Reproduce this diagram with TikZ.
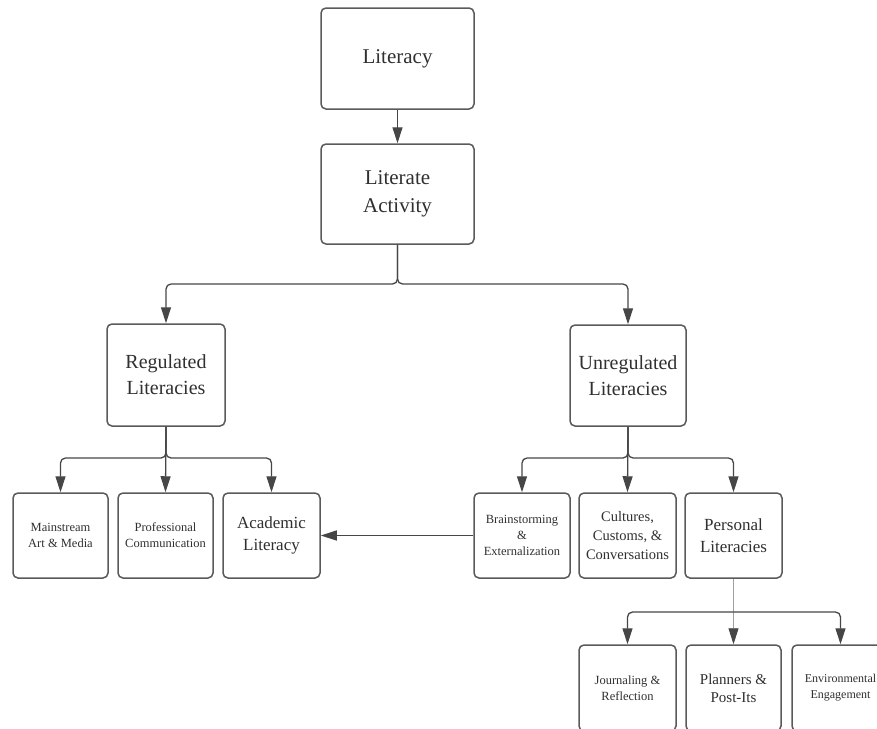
\documentclass[tikz,border=0pt]{standalone}
\usepackage{fontspec}
\setmainfont{Liberation Serif}
\usepackage{xcolor}
\usetikzlibrary{arrows.meta,positioning}

\definecolor{boxline}{HTML}{5A5A5A}
\definecolor{linegray}{HTML}{464646}
\definecolor{textgray}{HTML}{303030}

\begin{document}
\begin{tikzpicture}[x=1pt, y=-1pt,
    box/.style={draw=boxline, line width=1.5pt, rounded corners=5pt, fill=white,
        text=textgray, align=center, inner sep=0pt},
    conn/.style={draw=linegray, line width=1.3pt, rounded corners=5pt},
    arr/.style={conn, -{Triangle[length=16pt, width=10pt]}},
    thinarr/.style={draw=gray!75, line width=0.8pt,
        -{Triangle[length=16pt, width=10pt, color=linegray]}}]
    \useasboundingbox (0,0) rectangle (877,728);

    % Top of the tree
    \node[box, minimum width=153pt, minimum height=101pt,
        font=\fontsize{21}{27}\selectfont] (lit) at (397.5,58.5) {Literacy};
    \node[box, minimum width=153pt, minimum height=100pt,
        font=\fontsize{21}{28}\selectfont] (act) at (397.5,194) {Literate\\Activity};

    % Regulated / unregulated
    \node[box, minimum width=118pt, minimum height=102pt,
        font=\fontsize{20}{26}\selectfont] (reg) at (166,375) {Regulated\\Literacies};
    \node[box, minimum width=116pt, minimum height=101pt,
        font=\fontsize{20}{26}\selectfont] (unreg) at (628,375.5) {Unregulated\\Literacies};

    % Regulated children
    \node[box, minimum width=95pt, minimum height=85pt,
        font=\fontsize{12.5}{16}\selectfont] (main) at (60.5,535.5) {Mainstream\\Art \& Media};
    \node[box, minimum width=95pt, minimum height=85pt,
        font=\fontsize{12.5}{16}\selectfont] (prof) at (165.5,535.5) {Professional\\Communication};
    \node[box, minimum width=97pt, minimum height=85pt,
        font=\fontsize{17}{22}\selectfont] (acad) at (271.5,535.5) {Academic\\Literacy};

    % Unregulated children
    \node[box, minimum width=96pt, minimum height=85pt,
        font=\fontsize{12.5}{16}\selectfont] (brain) at (522,535.5) {Brainstorming\\\&\\Externalization};
    \node[box, minimum width=97pt, minimum height=85pt,
        font=\fontsize{14.5}{19}\selectfont] (cult) at (627.5,535.5) {Cultures,\\Customs, \&\\Conversations};
    \node[box, minimum width=97pt, minimum height=85pt,
        font=\fontsize{17}{22}\selectfont] (pers) at (733.5,535.5) {Personal\\Literacies};

    % Personal children (cut off at the page edge)
    \node[box, minimum width=97pt, minimum height=86pt,
        font=\fontsize{12.5}{16}\selectfont] (jour) at (627.5,688) {Journaling \&\\Reflection};
    \node[box, minimum width=95pt, minimum height=86pt,
        font=\fontsize{15}{18}\selectfont] (plan) at (733.5,688) {Planners \&\\Post-Its};
    \node[box, minimum width=97pt, minimum height=86pt,
        font=\fontsize{12}{16}\selectfont] (env) at (840.5,688) {Environmental\\Engagement};

    % Branch points
    \coordinate (split1) at (397.5,284);
    \coordinate (split2) at (166,458);
    \coordinate (split3) at (628,458);
    \coordinate (split4) at (733.5,612);

    % Arrows
    \draw[arr] (lit) -- (act);
    \draw[arr] (act.south) -- (split1) -| (reg.north);
    \draw[arr] (act.south) -- (split1) -| (unreg.north);

    \draw[arr] (reg.south) -- (split2) -| (main.north);
    \draw[arr] (reg.south) -- (prof.north);
    \draw[arr] (reg.south) -- (split2) -| (acad.north);

    \draw[arr] (unreg.south) -- (split3) -| (brain.north);
    \draw[arr] (unreg.south) -- (cult.north);
    \draw[arr] (unreg.south) -- (split3) -| (pers.north);

    \draw[thinarr] (pers.south) -- (plan.north);
    \draw[arr] (split4) -| (jour.north);
    \draw[arr] (split4) -| (env.north);

    \draw[arr] (brain.west) -- (acad.east);
\end{tikzpicture}
\end{document}
